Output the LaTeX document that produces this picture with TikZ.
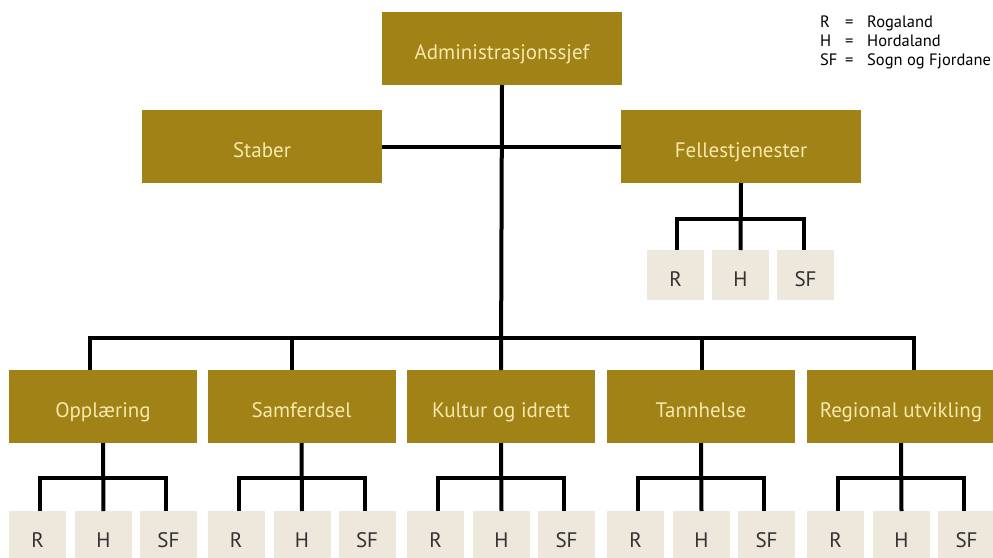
\documentclass[tikz,border=0pt]{standalone}
\usepackage{fontspec}
\setmainfont{PT Sans}
\definecolor{gold}{RGB}{160,130,22}
\definecolor{cream}{RGB}{247,232,172}
\definecolor{beige}{RGB}{237,231,220}
\definecolor{darktext}{RGB}{50,50,50}
\tikzset{
  mainbox/.style={fill=gold, text=cream, inner sep=0pt, outer sep=0pt,
    minimum height=73pt, text height=22.5pt, text depth=0pt,
    font=\fontsize{21}{23}\selectfont},
  regbox/.style={fill=beige, text=darktext, inner sep=0pt, outer sep=0pt,
    minimum width=57pt, minimum height=50pt, text height=22.5pt, text depth=0pt,
    font=\fontsize{21}{23}\selectfont},
  conn/.style={line width=4pt, black},
  legend/.style={anchor=base west, inner sep=0pt, text=black, font=\fontsize{16.5}{18}\selectfont}
}
\begin{document}
\begin{tikzpicture}[x=1pt,y=-1pt]
\useasboundingbox (0,0) rectangle (993,557);
\clip (0,0) rectangle (993,557);
% top level
\node[mainbox, minimum width=240pt, anchor=north west] (adm) at (382,12) {Administrasjonssjef};
\node[mainbox, minimum width=240pt, anchor=north west] (stab) at (142,110) {Staber};
\node[mainbox, minimum width=240pt, anchor=north west] (fell) at (621,110) {Fellestjenester};
% fellestjenester regions
\node[regbox, anchor=north west] (fellR) at (647,250) {R};
\node[regbox, anchor=north west] (fellH) at (712,250) {H};
\node[regbox, anchor=north west] (fellSF) at (777,250) {SF};
\coordinate (fellb) at (742,219);
\draw[conn] ([xshift=1.5pt]fellR.north) |- (fellb) -| ([xshift=-1.5pt]fellSF.north);
\draw[conn] (fell.south) -- (fellH.north);
% staber line
\draw[conn] (stab.east) -- (fell.west);
% departments
\foreach \n/\l/\t in {opp/9/Opplæring, sam/207.5/Samferdsel, kul/407/Kultur og idrett, tan/607/Tannhelse, reg/807/Regional utvikling}{
  \node[mainbox, minimum width=188pt, anchor=north west] (\n) at (\l,370) {\t};
  \node[regbox, anchor=north west] (\n R) at (\l,511) {R};
  \node[regbox, anchor=north west] (\n H) at (\l+66,511) {H};
  \node[regbox, anchor=north west] (\n SF) at (\l+131,511) {SF};
  \coordinate (\n b) at (\l+94,478);
  \draw[conn] ([xshift=2.5pt]\n R.north) |- (\n b) -| ([xshift=-2.5pt]\n SF.north);
  \draw[conn] (\n.south) -- (\n H.north);
}
% trunk and bus
\coordinate (bus) at (501,338);
\draw[conn] (adm.south) -- (kul.north);
\draw[conn] ([xshift=-13.5pt]opp.north) |- (bus) -| ([xshift=13pt]reg.north);
\draw[conn] ([xshift=-9.5pt]sam.north) -- ([xshift=-9.5pt]sam.north |- bus);
\draw[conn] ([xshift=1pt]tan.north) -- ([xshift=1pt]tan.north |- bus);
% legend
\node[legend] (l1a) at (820,27) {R};
\node[legend] (l1b) at (845,27) {=};
\node[legend] (l1c) at (867,27) {Rogaland};
\node[legend] (l2a) at (820,46) {H};
\node[legend] (l2b) at (845,46) {=};
\node[legend] (l2c) at (867,46) {Hordaland};
\node[legend] (l3a) at (820,65) {SF};
\node[legend] (l3b) at (845,65) {=};
\node[legend] (l3c) at (867,65) {Sogn og Fjordane};
\end{tikzpicture}
\end{document}
